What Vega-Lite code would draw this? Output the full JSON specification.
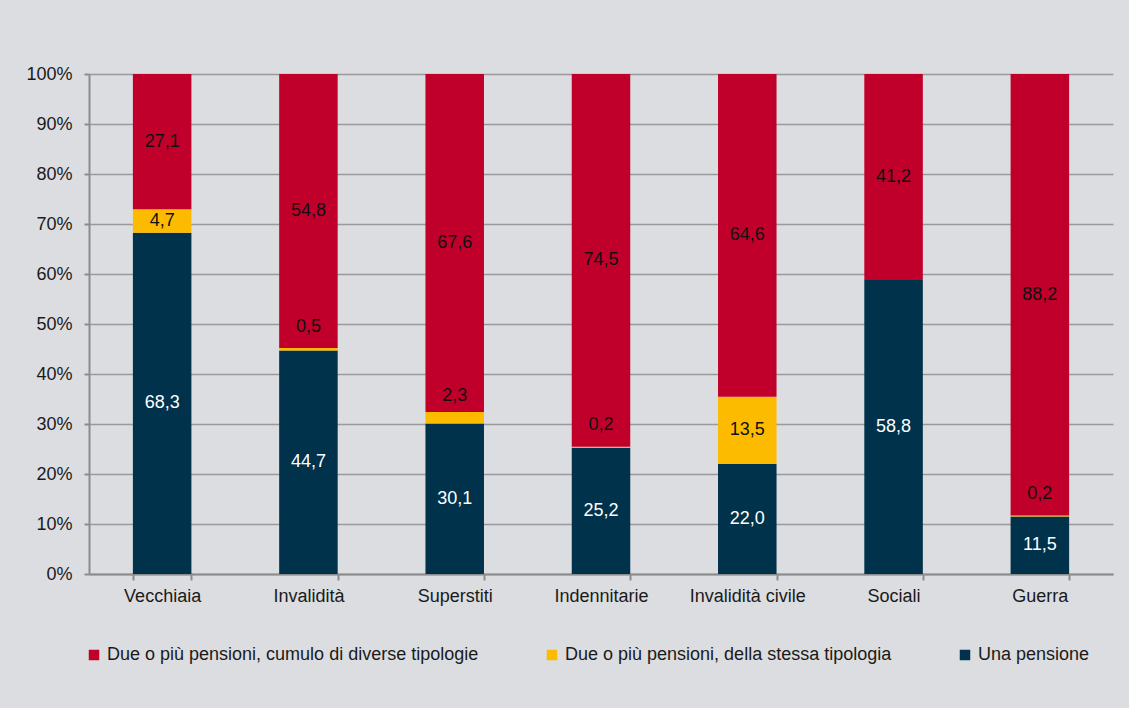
{
  "$schema": "https://vega.github.io/schema/vega-lite/v6.json",
  "width": 1024,
  "height": 500,
  "autosize": {"type": "none"},
  "padding": {"left": 89, "top": 74, "right": 16, "bottom": 134},
  "background": "#dcdde0",
  "config": {
    "locale": {"number": {"decimal": ",", "thousands": ".", "grouping": [3], "currency": ["", " €"]}},
    "font": "Liberation Sans",
    "view": {"stroke": null},
    "axis": {"labelFont": "Liberation Sans", "labelFontSize": 18, "labelColor": "#1a1a1a", "domainColor": "#8c8c8c", "domainWidth": 2, "tickColor": "#8c8c8c", "tickWidth": 2, "gridColor": "#9a9a9a", "gridWidth": 1.5, "labelOverlap": false}
  },
  "data": {
    "values": [
      {"cat": "Vecchiaia", "tipo": "Una pensione", "v": 68.3},
      {"cat": "Vecchiaia", "tipo": "Due o più pensioni, della stessa tipologia", "v": 4.7},
      {"cat": "Vecchiaia", "tipo": "Due o più pensioni, cumulo di diverse tipologie", "v": 27.1},
      {"cat": "Invalidità", "tipo": "Una pensione", "v": 44.7},
      {"cat": "Invalidità", "tipo": "Due o più pensioni, della stessa tipologia", "v": 0.5},
      {"cat": "Invalidità", "tipo": "Due o più pensioni, cumulo di diverse tipologie", "v": 54.8},
      {"cat": "Superstiti", "tipo": "Una pensione", "v": 30.1},
      {"cat": "Superstiti", "tipo": "Due o più pensioni, della stessa tipologia", "v": 2.3},
      {"cat": "Superstiti", "tipo": "Due o più pensioni, cumulo di diverse tipologie", "v": 67.6},
      {"cat": "Indennitarie", "tipo": "Una pensione", "v": 25.2},
      {"cat": "Indennitarie", "tipo": "Due o più pensioni, della stessa tipologia", "v": 0.2},
      {"cat": "Indennitarie", "tipo": "Due o più pensioni, cumulo di diverse tipologie", "v": 74.5},
      {"cat": "Invalidità civile", "tipo": "Una pensione", "v": 22.0},
      {"cat": "Invalidità civile", "tipo": "Due o più pensioni, della stessa tipologia", "v": 13.5},
      {"cat": "Invalidità civile", "tipo": "Due o più pensioni, cumulo di diverse tipologie", "v": 64.6},
      {"cat": "Sociali", "tipo": "Una pensione", "v": 58.8},
      {"cat": "Sociali", "tipo": "Due o più pensioni, cumulo di diverse tipologie", "v": 41.2},
      {"cat": "Guerra", "tipo": "Una pensione", "v": 11.5},
      {"cat": "Guerra", "tipo": "Due o più pensioni, della stessa tipologia", "v": 0.2},
      {"cat": "Guerra", "tipo": "Due o più pensioni, cumulo di diverse tipologie", "v": 88.2}
    ]
  },
  "transform": [
    {"calculate": "indexof(['Una pensione','Due o più pensioni, della stessa tipologia','Due o più pensioni, cumulo di diverse tipologie'], datum.tipo)", "as": "ord"},
    {"stack": "v", "groupby": ["cat"], "sort": [{"field": "ord", "order": "ascending"}], "offset": "normalize", "as": ["y0", "y1"]},
    {"calculate": "(datum.y0 + datum.y1) / 2", "as": "ymid"}
  ],
  "encoding": {
    "x": {
      "field": "cat", "type": "nominal", "sort": null, "title": null,
      "scale": {"paddingInner": 0.6, "paddingOuter": 0.3},
      "axis": {"labelAngle": 0, "tickBand": "extent", "tickSize": 6, "labelPadding": 7, "grid": false}
    }
  },
  "layer": [
    {
      "mark": {"type": "bar"},
      "encoding": {
        "y": {"field": "y0", "type": "quantitative", "title": null,
          "scale": {"domain": [0, 1], "nice": false},
          "axis": {"format": ".0%", "values": [0,0.1,0.2,0.3,0.4,0.5,0.6,0.7,0.8,0.9,1], "tickSize": 5, "labelPadding": 12, "grid": true}},
        "y2": {"field": "y1"},
        "color": {
          "field": "tipo", "type": "nominal", "title": null,
          "scale": {"domain": ["Due o più pensioni, cumulo di diverse tipologie", "Due o più pensioni, della stessa tipologia", "Una pensione"], "range": ["#c0002b", "#fdbb00", "#00324b"]},
          "legend": {"orient": "none", "legendX": -4, "legendY": 572, "direction": "horizontal", "symbolType": "square", "symbolSize": 110, "symbolStrokeWidth": 0, "labelFontSize": 18, "labelColor": "#1a1a1a", "labelFont": "Liberation Sans", "columnPadding": 64, "labelOffset": 4, "labelLimit": 600}
        }
      }
    },
    {
      "transform": [{"filter": "datum.v >= 3"}],
      "mark": {"type": "text", "fontSize": 18, "font": "Liberation Sans", "baseline": "middle"},
      "encoding": {
        "y": {"field": "ymid", "type": "quantitative"},
        "text": {"field": "v", "type": "quantitative", "format": ".1f"},
        "color": {"condition": {"test": "datum.tipo === 'Una pensione'", "value": "#ffffff"}, "value": "#111111"}
      }
    },
    {
      "transform": [{"filter": "datum.v < 3"}],
      "mark": {"type": "text", "fontSize": 18, "font": "Liberation Sans", "baseline": "middle", "dy": -22},
      "encoding": {
        "y": {"field": "ymid", "type": "quantitative"},
        "text": {"field": "v", "type": "quantitative", "format": ".1f"},
        "color": {"value": "#111111"}
      }
    }
  ]
}
